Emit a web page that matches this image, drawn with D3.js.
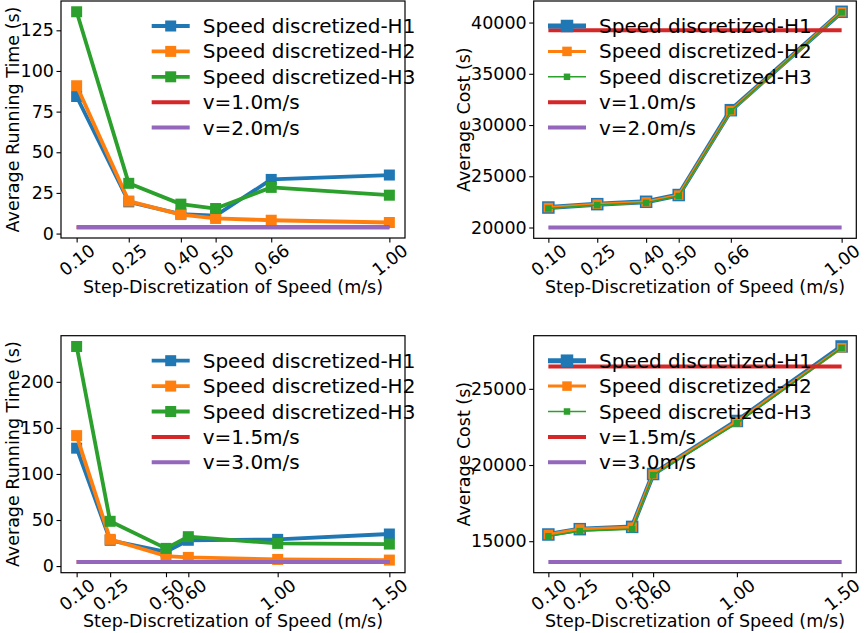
<!DOCTYPE html>
<html>
<head>
<meta charset="utf-8">
<script src="https://cdn.jsdelivr.net/npm/d3@7"></script>
<style>
  body { margin: 0; background: #fff; }
  svg { display: block; }
  text { font-family: "DejaVu Sans", sans-serif; fill: #000; }
</style>
</head>
<body>
<svg id="chart" width="867" height="633"></svg>
<script>
// ---- data ----
const stepsTop = [0.10, 0.25, 0.40, 0.50, 0.66, 1.00];
const stepsBottom = [0.10, 0.25, 0.50, 0.60, 1.00, 1.50];

const timeTopH1 = [84.3, 19.5, 12.0, 11.0, 33.3, 36.0];
const timeTopH2 = [90.9, 20.0, 11.7, 9.3, 8.2, 6.8];
const timeTopH3 = [136.4, 30.9, 18.1, 15.4, 28.4, 23.6];
const timeTopRef = [3.9, 3.9];          // v=1.0m/s, v=2.0m/s

const costTopH1 = [21950, 22280, 22510, 23170, 31450, 41050];
const costTopH2 = [21950, 22280, 22500, 23160, 31400, 41040];
const costTopH3 = [21860, 22190, 22410, 23070, 31350, 41000];
const costTopRef = [39250, 20000];

const timeBotH1 = [128.0, 28.0, 15.5, 28.0, 29.0, 34.8];
const timeBotH2 = [141.6, 29.0, 10.9, 9.4, 7.2, 6.5];
const timeBotH3 = [238.4, 48.6, 19.2, 31.9, 24.6, 23.9];
const timeBotRef = [4.5, 4.5];          // v=1.5m/s, v=3.0m/s

const costBotH1 = [15440, 15790, 15940, 19410, 22890, 27780];
const costBotH2 = [15440, 15800, 15920, 19400, 22850, 27700];
const costBotH3 = [15330, 15660, 15790, 19340, 22740, 27680];
const costBotRef = [26470, 13640];

const seriesNames = ["Speed discretized-H1", "Speed discretized-H2", "Speed discretized-H3"];
const refNamesTop = ["v=1.0m/s", "v=2.0m/s"];
const refNamesBot = ["v=1.5m/s", "v=3.0m/s"];

const yTicksTimeTop = [0, 25, 50, 75, 100, 125];
const yTicksCostTop = [20000, 25000, 30000, 35000, 40000];
const yTicksTimeBot = [0, 50, 100, 150, 200];
const yTicksCostBot = [15000, 20000, 25000];

const colors = ["#1f77b4", "#ff7f0e", "#2ca02c", "#d62728", "#9467bd"];

const FS = 17.5;      // ticks and axis labels
const LFS = 20;       // legend
const svg = d3.select("#chart");

// same width for all 3 series (running time plots)
const styleEqual = [{lw: 3.8, ms: 11}, {lw: 3.8, ms: 11}, {lw: 3.8, ms: 11}];
// stacked widths so overlapping cost curves stay visible
const styleStacked = [{lw: 5, ms: 12.5}, {lw: 3, ms: 9.5}, {lw: 1.6, ms: 6.5}];

function drawPanel(p) {
  const g = svg.append("g");
  const {l, t, r, b} = p.box;

  const xr = d3.extent(p.xs);
  const xpad = (xr[1] - xr[0]) * 0.05;
  const x = d3.scaleLinear().domain([xr[0] - xpad, xr[1] + xpad]).range([l, r]);

  const allY = p.series.flat().concat(p.refs);
  const yr = d3.extent(allY);
  const ypad = (yr[1] - yr[0]) * 0.05;
  const y = d3.scaleLinear().domain([yr[0] - ypad, yr[1] + ypad]).range([b, t]);

  const line = d3.line().x((d, i) => x(p.xs[i])).y(d => y(d));

  // series
  p.series.forEach((vals, k) => {
    const st = p.style[k];
    g.append("path")
      .attr("d", line(vals))
      .attr("fill", "none")
      .attr("stroke", colors[k])
      .attr("stroke-width", st.lw)
      .attr("stroke-linejoin", "round");
    g.selectAll(null).data(vals).enter().append("rect")
      .attr("x", (d, i) => x(p.xs[i]) - st.ms / 2)
      .attr("y", d => y(d) - st.ms / 2)
      .attr("width", st.ms)
      .attr("height", st.ms)
      .attr("fill", colors[k]);
  });

  // reference speeds, drawn across the step range
  p.refs.forEach((v, k) => {
    g.append("line")
      .attr("x1", x(xr[0])).attr("x2", x(xr[1]))
      .attr("y1", y(v)).attr("y2", y(v))
      .attr("stroke", colors[3 + k])
      .attr("stroke-width", 4);
  });

  // axes
  const ya = g.append("g").attr("transform", `translate(${l},0)`)
    .call(d3.axisLeft(y).tickValues(p.yTicks).tickSize(4.5).tickPadding(2.5).tickFormat(d3.format("d")));
  ya.select(".domain").remove();
  ya.selectAll("text").style("font-size", FS + "px");
  ya.selectAll("line").attr("stroke-width", 1.1);

  const xa = g.append("g").attr("transform", `translate(0,${b})`)
    .call(d3.axisBottom(x).tickValues(p.xs).tickSize(4.5).tickFormat(d3.format(".2f")));
  xa.select(".domain").remove();
  xa.selectAll("line").attr("stroke-width", 1.1);
  xa.selectAll("text")
    .style("font-size", FS + "px")
    .attr("y", 0).attr("dy", "0.35em")
    .attr("text-anchor", "middle")
    .attr("transform", "translate(0,22) rotate(-38)");

  // frame
  g.append("rect")
    .attr("x", l).attr("y", t).attr("width", r - l).attr("height", b - t)
    .attr("fill", "none").attr("stroke", "#000").attr("stroke-width", 1.2);

  // labels
  g.append("text")
    .attr("x", (l + r) / 2).attr("y", b + 54.5)
    .attr("text-anchor", "middle")
    .style("font-size", FS + "px")
    .text("Step-Discretization of Speed (m/s)");
  g.append("text")
    .attr("transform", `translate(${p.yLabelX},${(t + b) / 2}) rotate(-90)`)
    .attr("text-anchor", "middle")
    .style("font-size", FS + "px")
    .text(p.yLabel);

  // legend (no frame)
  const lg = g.append("g").attr("transform", `translate(${l + p.legendDx},${t + 25})`);
  const rowH = 25.4;
  p.series.forEach((vals, k) => {
    const st = p.style[k];
    const row = lg.append("g").attr("transform", `translate(0,${k * rowH})`);
    row.append("line").attr("x1", 0).attr("x2", 38).attr("y1", 0).attr("y2", 0)
      .attr("stroke", colors[k]).attr("stroke-width", st.lw);
    row.append("rect").attr("x", 19 - st.ms / 2).attr("y", -st.ms / 2)
      .attr("width", st.ms).attr("height", st.ms).attr("fill", colors[k]);
    row.append("text").attr("x", 51).attr("dy", "0.35em")
      .style("font-size", LFS + "px").text(seriesNames[k]);
  });
  p.refNames.forEach((name, k) => {
    const row = lg.append("g").attr("transform", `translate(0,${(3 + k) * rowH})`);
    row.append("line").attr("x1", 0).attr("x2", 38).attr("y1", 0).attr("y2", 0)
      .attr("stroke", colors[3 + k]).attr("stroke-width", 4);
    row.append("text").attr("x", 51).attr("dy", "0.35em")
      .style("font-size", LFS + "px").text(name);
  });
}

drawPanel({
  box: {l: 61, t: 1, r: 405, b: 238},
  xs: stepsTop,
  series: [timeTopH1, timeTopH2, timeTopH3],
  refs: timeTopRef, refNames: refNamesTop,
  yTicks: yTicksTimeTop, yLabel: "Average Running Time (s)", yLabelX: 19,
  style: styleEqual, legendDx: 90.7
});
drawPanel({
  box: {l: 533.7, t: 1, r: 856.3, b: 238.3},
  xs: stepsTop,
  series: [costTopH1, costTopH2, costTopH3],
  refs: costTopRef, refNames: refNamesTop,
  yTicks: yTicksCostTop, yLabel: "Average Cost (s)", yLabelX: 470,
  style: styleStacked, legendDx: 14.3
});
drawPanel({
  box: {l: 61, t: 335.7, r: 405, b: 572.7},
  xs: stepsBottom,
  series: [timeBotH1, timeBotH2, timeBotH3],
  refs: timeBotRef, refNames: refNamesBot,
  yTicks: yTicksTimeBot, yLabel: "Average Running Time (s)", yLabelX: 19,
  style: styleEqual, legendDx: 90.7
});
drawPanel({
  box: {l: 533.7, t: 335.7, r: 856.3, b: 572.7},
  xs: stepsBottom,
  series: [costBotH1, costBotH2, costBotH3],
  refs: costBotRef, refNames: refNamesBot,
  yTicks: yTicksCostBot, yLabel: "Average Cost (s)", yLabelX: 470,
  style: styleStacked, legendDx: 14.3
});
</script>
</body>
</html>
